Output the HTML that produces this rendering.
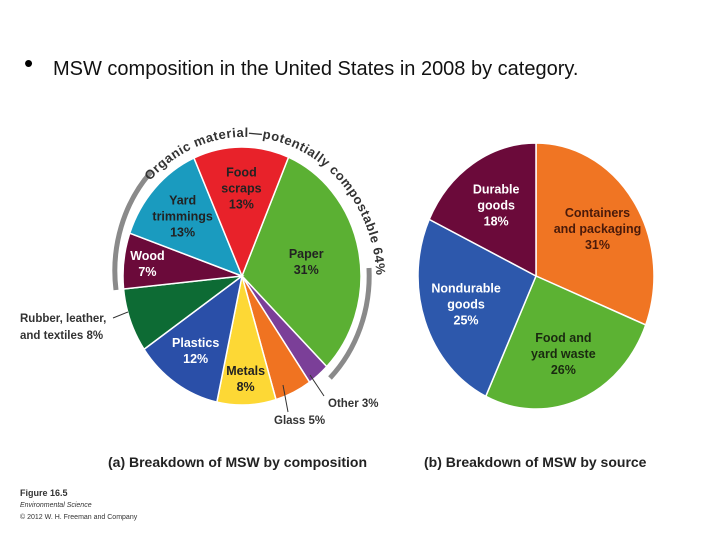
<!DOCTYPE html>
<html><head><meta charset="utf-8"><style>
body{margin:0;width:720px;height:540px;background:#fff;overflow:hidden;font-family:"Liberation Sans",sans-serif}
svg{position:absolute;left:0;top:0}
</style></head><body>
<svg id="c" width="720" height="540">
<text x="24" y="72" font-size="26">•</text>
<text x="53" y="75" font-size="20" fill="#111">MSW composition in the United States in 2008 by category.</text>
<defs><path id="arcp" d="M 150 181 A 132 146 0 0 1 376 270"/></defs>
<path d="M 116 290 A 128 142 0 0 1 151 172" fill="none" stroke="#8a8a8a" stroke-width="5"/>
<path d="M 369 268 A 128 142 0 0 1 330 378" fill="none" stroke="#8a8a8a" stroke-width="5"/>
<text font-size="13" font-weight="bold" fill="#333"><textPath href="#arcp" textLength="318" lengthAdjust="spacing">Organic material—potentially compostable 64%</textPath></text>
<g id="pa"></g><g id="pb"></g>
<text x="20" y="322" font-size="11.5" font-weight="bold" fill="#333">Rubber, leather,</text>
<text x="20" y="339" font-size="11.5" font-weight="bold" fill="#333">and textiles 8%</text>
<line x1="113" y1="318" x2="128" y2="312" stroke="#333"/>
<text x="274" y="424" font-size="11.5" font-weight="bold" fill="#333">Glass 5%</text>
<line x1="288" y1="412" x2="283" y2="385" stroke="#333"/>
<text x="328" y="407" font-size="11.5" font-weight="bold" fill="#333">Other 3%</text>
<line x1="324" y1="396" x2="310" y2="375" stroke="#333"/>
<text x="108" y="467" font-size="14" font-weight="bold" fill="#222">(a) Breakdown of MSW by composition</text>
<text x="424" y="467" font-size="14" font-weight="bold" fill="#222">(b) Breakdown of MSW by source</text>
<text x="20" y="496" font-size="9" font-weight="bold" fill="#333">Figure 16.5</text>
<text x="20" y="507" font-size="7" font-style="italic" fill="#333">Environmental Science</text>
<text x="20" y="519" font-size="7" fill="#333">© 2012 W. H. Freeman and Company</text>
</svg>
<script>
const catsA=["Paper","Other","Glass","Metals","Plastics","Rubber, leather, and textiles","Wood","Yard trimmings","Food scraps"];
const valsA=[31,3,5,8,12,8,7,13,13];
const labelsA=[["Paper","31%"],null,null,["Metals","8%"],["Plastics","12%"],null,["Wood","7%"],["Yard","trimmings","13%"],["Food","scraps","13%"]];
const colsA=["#5bb033","#7b3f98","#f07321","#fdd835","#2a4fa8","#0d6b34","#6b0a3a","#1a9bbf","#e8222a"];
const txtA=["#222","#fff","#fff","#222","#fff","#fff","#fff","#222","#222"];
const catsB=["Containers and packaging","Food and yard waste","Nondurable goods","Durable goods"];
const valsB=[31,26,25,18];
const labelsB=[["Containers","and packaging","31%"],["Food and","yard waste","26%"],["Nondurable","goods","25%"],["Durable","goods","18%"]];
const colsB=["#f07523","#5cb233","#2d58ac","#6b0a3a"];
const txtB=["#4a1a0a","#1a2a10","#fff","#fff"];
const NS="http://www.w3.org/2000/svg";
function pie(g,cats,vals,labels,cols,txt,cx,cy,rx,ry,start,lr,prefix){
  const tot=vals.reduce((a,b)=>a+b,0);let a=start;
  const pt=(ang,f)=>[cx+rx*f*Math.sin(ang*Math.PI/180),cy-ry*f*Math.cos(ang*Math.PI/180)];
  vals.forEach((v,i)=>{
    const sw=v/tot*360,b=a+sw;const p0=pt(a,1),p1=pt(b,1);
    const p=document.createElementNS(NS,"path");
    p.setAttribute("d",`M${cx},${cy}L${p0[0]},${p0[1]}A${rx},${ry} 0 ${sw>180?1:0} 1 ${p1[0]},${p1[1]}Z`);
    p.setAttribute("fill",cols[i]);p.setAttribute("stroke","#fff");p.setAttribute("stroke-width","1.5");
    
    
    g.appendChild(p);
    if(labels[i]){const m=pt(a+sw/2,lr[i]||0.62);const L=labels[i];
      L.forEach((s,k)=>{const t=document.createElementNS(NS,"text");
        t.setAttribute("x",m[0]);t.setAttribute("y",m[1]+(k-(L.length-1)/2)*16+4);
        t.setAttribute("text-anchor","middle");t.setAttribute("font-size","12.5");t.setAttribute("font-weight","bold");t.setAttribute("fill",txt[i]);
        t.textContent=s;
        
        
        g.appendChild(t);});}
    a=b;});
}
pie(document.getElementById("pa"),catsA,valsA,labelsA,colsA,txtA,242,276,119,129,23,[0.55,0,0,0.8,0.7,0,0.8,0.68,0.68],"composition");
pie(document.getElementById("pb"),catsB,valsB,labelsB,colsB,txtB,536,276,118,133,0,[0.63,0.63,0.63,0.63],"source");
</script>
</body></html>
